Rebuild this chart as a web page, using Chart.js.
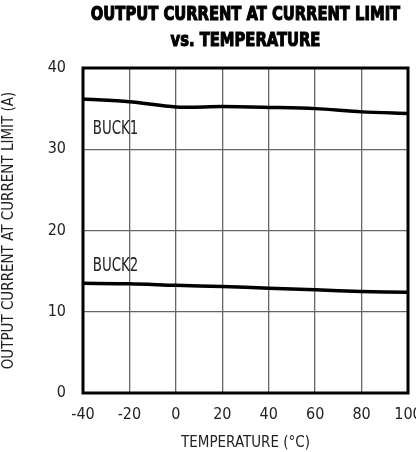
<!DOCTYPE html>
<html>
<head>
<meta charset="utf-8">
<script src="https://cdn.jsdelivr.net/npm/chart.js@4.4.1/dist/chart.umd.min.js"></script>
<style>
  body { margin: 0; background: #fff; }
  #wrap { width: 416px; height: 452px; }
</style>
</head>
<body>
<div id="wrap"><canvas id="my-chart"></canvas></div>
<script>
'use strict';

// temperature points (°C)
let temps = [-40, -20, 0, 20, 40, 60, 80, 100];
// output current at current limit (A)
let buck1 = [36.2, 35.85, 35.2, 35.25, 35.15, 35.0, 34.6, 34.4];
let buck2 = [13.5, 13.45, 13.25, 13.1, 12.9, 12.7, 12.5, 12.4];
let xTicks = [-40, -20, 0, 20, 40, 60, 80, 100];
let yTicks = [0, 10, 20, 30, 40];
let titleLines = ['OUTPUT CURRENT AT CURRENT LIMIT', 'vs. TEMPERATURE'];

let narrow = '"DejaVu Sans Condensed", "Liberation Sans Narrow", sans-serif';

function toPoints(xs, ys) {
  let pts = [];
  for (let i = 0; i < xs.length; i++) {
    pts.push({ x: xs[i], y: ys[i] });
  }
  return pts;
}

// draw text squeezed sideways, to get the tall condensed look
function squeezeText(ctx, text, x, y, sx, align, heavy) {
  ctx.save();
  ctx.translate(x, y);
  ctx.scale(sx, 1);
  ctx.textAlign = align;
  ctx.fillText(text, 0, 0);
  if (heavy) {
    ctx.lineWidth = heavy;
    ctx.strokeStyle = ctx.fillStyle;
    ctx.strokeText(text, 0, 0);
  }
  ctx.restore();
}

// title, curve labels and thick frame round the plot
let framePlugin = {
  id: 'frame',
  afterDatasetsDraw(chart) {
    let ctx = chart.ctx;
    let a = chart.chartArea;
    let xs = chart.scales.x;
    let ys = chart.scales.y;
    ctx.save();
    ctx.textBaseline = 'middle';

    ctx.fillStyle = '#000';
    ctx.font = 'bold 20px ' + narrow;
    let cx = (a.left + a.right) / 2;
    squeezeText(ctx, titleLines[0], cx, 15, 0.82, 'center', 1.1);
    squeezeText(ctx, titleLines[1], cx, 41, 0.82, 'center', 1.1);

    ctx.fillStyle = '#222';
    ctx.font = '19px ' + narrow;
    squeezeText(ctx, 'BUCK1', xs.getPixelForValue(-35.8), ys.getPixelForValue(32.5), 0.78, 'left');
    squeezeText(ctx, 'BUCK2', xs.getPixelForValue(-35.8), ys.getPixelForValue(15.6), 0.78, 'left');

    ctx.strokeStyle = '#000';
    ctx.lineWidth = 3;
    ctx.strokeRect(a.left, a.top, a.right - a.left, a.bottom - a.top);
    ctx.restore();
  }
};

let chartObj = {
  type: 'line',
  data: {
    datasets: [{
      label: 'BUCK1',
      data: toPoints(temps, buck1),
      borderColor: '#000',
      borderWidth: 3.5,
      pointRadius: 0,
      tension: 0.3
    },
    {
      label: 'BUCK2',
      data: toPoints(temps, buck2),
      borderColor: '#000',
      borderWidth: 3.5,
      pointRadius: 0,
      tension: 0.3
    }]
  },
  options: {
    responsive: true,
    maintainAspectRatio: false,
    animation: false,
    layout: { padding: { left: 0, right: 8, top: 68, bottom: 0 } },
    plugins: {
      legend: { display: false },
      tooltip: { enabled: false },
      title: { display: false }
    },
    scales: {
      x: {
        type: 'linear',
        min: -40,
        max: 100,
        afterBuildTicks(scale) {
          scale.ticks = xTicks.map(v => ({ value: v }));
        },
        afterFit(scale) {
          scale.height = 59;
          scale.paddingLeft = 0;
          scale.paddingRight = 0;
        },
        grid: { color: '#666', lineWidth: 1.3, drawTicks: false },
        border: { display: false },
        ticks: { color: '#222', padding: 12, maxRotation: 0, font: { family: narrow, size: 16 } },
        title: {
          display: true,
          text: 'TEMPERATURE (°C)',
          color: '#222',
          font: { family: narrow, size: 15 },
          padding: { top: 4, bottom: 0 }
        }
      },
      y: {
        min: 0,
        max: 40,
        afterBuildTicks(scale) {
          scale.ticks = yTicks.map(v => ({ value: v }));
        },
        afterFit(scale) { scale.width = 83; },
        grid: { color: '#666', lineWidth: 1.3, drawTicks: false },
        border: { display: false },
        ticks: { color: '#222', padding: 17, font: { family: narrow, size: 16 } },
        title: {
          display: true,
          text: 'OUTPUT CURRENT AT CURRENT LIMIT (A)',
          color: '#222',
          font: { family: narrow, size: 15 },
          padding: { top: 0, bottom: 4 }
        }
      }
    }
  },
  plugins: [framePlugin]
};

new Chart(document.getElementById('my-chart'), chartObj);
</script>
</body>
</html>
